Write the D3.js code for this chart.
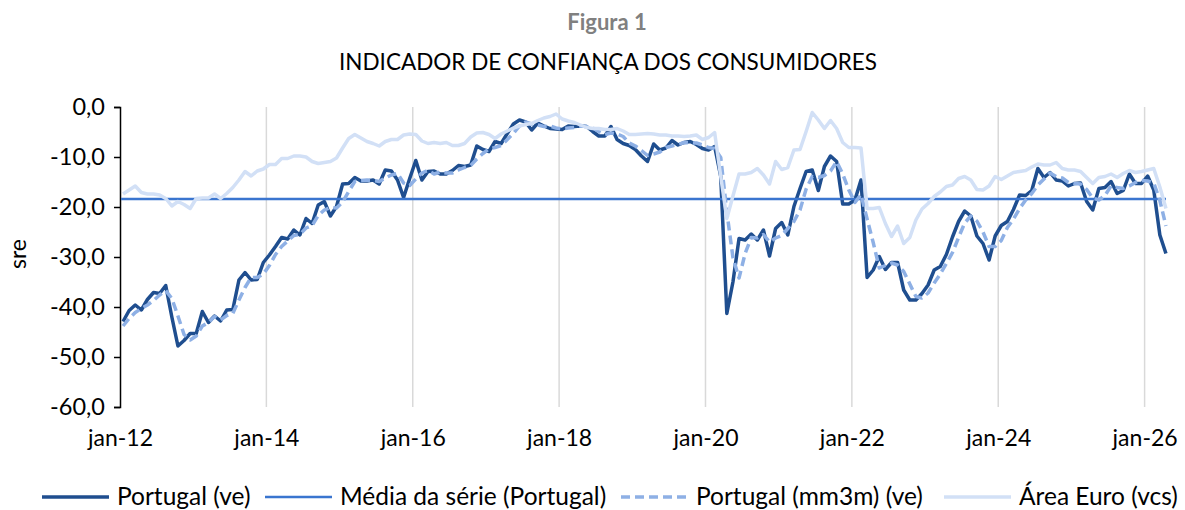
<!DOCTYPE html>
<html>
<head>
<meta charset="utf-8">
<script src="https://cdn.jsdelivr.net/npm/d3@7"></script>
<style>
  body { margin: 0; background: #fff; }
  svg { display: block; font-family: Lato, 'Open Sans', sans-serif; }
</style>
</head>
<body>
<svg id="chart" width="1185" height="510"></svg>
<script>
// Indicador de confiança dos consumidores, mensal jan-12 .. abr-26 (sre)
const firstMonth = new Date(2012, 0, 1);

const portugal = [
  -42.9, -40.7, -39.6, -40.6, -38.5, -37.1, -37.3, -35.7, -42.0, -47.8, -46.7, -45.3,
  -45.3, -40.9, -43.1, -41.8, -42.8, -40.6, -40.5, -34.6, -33.1, -34.6, -34.5, -31.1,
  -29.6, -27.9, -26.1, -26.4, -24.6, -25.6, -22.3, -23.3, -19.6, -18.9, -21.8, -19.9,
  -15.4, -15.3, -14.1, -14.8, -14.8, -14.6, -15.4, -12.6, -12.8, -14.6, -18.1, -14.3,
  -10.7, -14.6, -12.9, -12.8, -13.4, -13.4, -12.7, -11.7, -11.9, -11.6, -7.8, -8.5,
  -8.9, -6.9, -7.3, -5.3, -3.4, -2.6, -3.0, -4.6, -3.2, -3.8, -4.3, -4.4,
  -4.5, -3.8, -3.9, -3.8, -3.9, -4.9, -5.8, -5.8, -3.9, -6.5, -7.3, -7.7,
  -8.5, -9.8, -10.9, -7.4, -8.6, -8.2, -6.7, -7.6, -7.1, -6.9, -7.5, -8.3,
  -8.6, -7.9, -13.9, -41.3, -35.0, -26.3, -26.6, -25.4, -26.6, -24.6, -29.8, -24.3,
  -23.1, -25.6, -19.9, -16.3, -12.9, -12.6, -16.7, -11.9, -9.8, -10.9, -19.4, -19.4,
  -18.6, -14.6, -34.1, -32.6, -29.9, -32.5, -31.1, -31.1, -36.6, -38.6, -38.6, -37.3,
  -35.6, -32.6, -31.9, -29.5, -26.0, -22.9, -20.8, -21.8, -25.8, -27.3, -30.6, -25.8,
  -23.7, -22.9, -20.5, -17.6, -17.7, -16.7, -12.3, -14.1, -13.1, -14.6, -14.8, -15.8,
  -15.3, -15.2, -18.9, -20.6, -16.3, -16.1, -14.9, -17.3, -16.7, -13.4, -15.3, -15.3,
  -13.8, -16.6, -25.6, -29.3
];

const portugalMm3m = [
  -43.8, -42.3, -41.1, -40.3, -39.6, -38.7, -37.6, -36.7, -38.3, -41.8, -45.5, -46.6,
  -45.8, -43.8, -43.1, -41.9, -42.6, -41.7, -41.3, -38.6, -36.1, -34.1, -34.1, -33.4,
  -31.7, -29.5, -27.9, -26.8, -25.7, -25.5, -24.2, -23.7, -21.7, -20.6, -20.1, -20.2,
  -19.0, -16.9, -14.9, -14.7, -14.6, -14.7, -14.9, -14.2, -13.6, -13.3, -15.2, -15.7,
  -14.4, -13.2, -12.7, -13.4, -13.0, -13.2, -13.2, -12.6, -12.1, -11.7, -10.4, -9.3,
  -8.4, -8.1, -7.7, -6.5, -5.3, -3.8, -3.0, -3.4, -3.6, -3.9, -3.8, -4.2,
  -4.4, -4.2, -4.1, -3.8, -3.9, -4.2, -4.9, -5.5, -5.2, -5.4, -5.9, -7.2,
  -7.8, -8.7, -9.7, -9.4, -9.0, -8.1, -7.8, -7.5, -7.1, -7.2, -7.2, -7.6,
  -8.1, -8.3, -10.1, -21.0, -30.1, -34.2, -29.3, -26.1, -26.2, -25.5, -27.0, -26.2,
  -25.7, -24.3, -22.9, -20.6, -16.4, -13.9, -14.1, -13.7, -12.8, -10.9, -13.4, -16.6,
  -19.1, -17.5, -22.4, -27.1, -32.2, -31.7, -31.2, -31.6, -32.9, -35.4, -37.9, -38.2,
  -37.2, -35.2, -33.4, -31.3, -29.1, -26.1, -23.2, -21.8, -22.8, -25.0, -27.9, -27.9,
  -26.7, -24.1, -22.4, -20.3, -18.6, -17.3, -15.6, -14.4, -13.2, -13.9, -14.2, -15.1,
  -15.3, -15.4, -16.5, -18.2, -18.6, -17.7, -15.8, -16.1, -16.3, -15.8, -15.1, -14.7,
  -14.8, -15.2, -18.7, -23.8
];

const euroArea = [
  -17.4, -16.6, -15.8, -17.1, -17.4, -17.4, -17.6, -18.3, -19.8, -18.9, -19.5, -20.3,
  -18.3, -18.2, -18.2, -17.4, -18.3, -17.3, -16.1, -14.6, -12.9, -13.8, -12.8, -12.4,
  -11.5, -11.5, -10.3, -10.3, -9.8, -9.8, -10.0, -10.9, -11.3, -11.1, -10.9, -10.2,
  -8.2, -6.3, -5.5, -6.2, -6.9, -7.3, -7.8, -6.9, -6.5, -6.5, -5.6, -5.4,
  -5.5, -6.8, -7.3, -7.1, -7.3, -7.1, -7.7, -7.7, -7.3, -6.0, -5.2, -5.1,
  -5.5, -6.3, -5.4, -4.8, -4.2, -3.8, -3.5, -3.3, -2.7, -2.2, -1.9, -1.4,
  -2.4, -2.8, -3.1, -3.6, -4.1, -4.3, -4.3, -4.5, -4.5, -4.3, -4.8, -5.5,
  -5.5, -5.4, -5.3, -5.4, -5.6, -5.6, -5.8, -5.8, -5.9, -5.8, -5.6, -6.5,
  -6.1, -5.1, -13.9, -22.3, -17.8, -13.4, -13.4, -13.1, -12.3, -13.6, -15.4, -10.9,
  -12.5, -12.1, -8.6, -8.5, -4.9, -1.1, -2.6, -4.3, -2.7, -4.3, -7.1, -8.1,
  -8.1, -8.2, -20.3, -20.3, -20.1, -23.3, -25.9, -23.8, -27.3, -26.1, -22.6, -20.4,
  -19.3, -17.9, -17.0, -15.9, -15.6, -14.3, -13.9, -14.6, -16.5, -16.6, -15.8, -13.9,
  -14.5, -13.8, -13.1, -12.9, -12.7, -12.0, -11.4, -11.6, -11.6, -11.1, -12.3, -12.6,
  -12.6, -12.9, -14.1, -15.3, -14.1, -13.9, -13.4, -14.1, -13.3, -12.7, -13.1, -12.9,
  -12.6, -12.3, -16.0, -20.3
];

const serieMean = -18.4;   // média da série (Portugal)

const yTicks = [0, -10, -20, -30, -40, -50, -60];
const xTickLabels = ['jan-12', 'jan-14', 'jan-16', 'jan-18', 'jan-20', 'jan-22', 'jan-24', 'jan-26'];
const legendLabels = ['Portugal (ve)', 'Média da série (Portugal)', 'Portugal (mm3m) (ve)', 'Área Euro (vcs)'];

const colors = {
  portugal: '#1f4e8f',
  mean: '#3a75cf',
  mm3m: '#8eb0e5',
  euro: '#d2e0f6'
};

const svg = d3.select('#chart');
const margin = { top: 107, right: 16, bottom: 103, left: 120 };
const width = 1185, height = 510;

// category axis: each month is a slot, the point sits in the middle of its slot
const x = d3.scaleLinear()
  .domain([-0.5, portugal.length - 0.5])
  .range([margin.left, width - margin.right]);
const y = d3.scaleLinear()
  .domain([-60, 0])
  .range([height - margin.bottom, margin.top]);

const pt = d3.formatLocale({ decimal: ',', thousands: '.', grouping: [3], currency: ['', ' €'], minus: '-' });
const fmt = pt.format('.1f');

// month index of each labelled january
const labelIndex = xTickLabels.map(l => {
  const yr = 2000 + Number(l.slice(4));
  return d3.timeMonth.count(firstMonth, new Date(yr, 0, 1));
});

// vertical gridlines at the slot boundary of each labelled january
svg.append('g')
  .selectAll('line')
  .data(labelIndex.filter(i => i > 0))
  .join('line')
  .attr('x1', i => x(i - 0.5))
  .attr('x2', i => x(i - 0.5))
  .attr('y1', y(0))
  .attr('y2', y(-60))
  .attr('stroke', '#d9d9d9')
  .attr('stroke-width', 1.5);

// y axis
const yAxis = svg.append('g')
  .attr('transform', `translate(${margin.left},0)`)
  .call(d3.axisLeft(y).tickValues(yTicks).tickFormat(fmt).tickSize(6).tickPadding(9));
yAxis.select('.domain').attr('stroke', '#000').attr('stroke-width', 1.5);
yAxis.selectAll('.tick line').attr('stroke', '#000').attr('stroke-width', 1.5);
yAxis.selectAll('text').attr('font-size', 23.5).attr('fill', '#000')
  .attr('font-family', 'Lato, sans-serif');

// x axis labels (no line)
const xAxis = svg.append('g')
  .attr('transform', `translate(0,${y(-60)})`)
  .call(d3.axisBottom(x)
    .tickValues(labelIndex.map(i => i - 0.5))
    .tickFormat((d, k) => xTickLabels[k])
    .tickSize(0).tickPadding(23));
xAxis.select('.domain').remove();
xAxis.selectAll('text').attr('font-size', 23).attr('fill', '#000')
  .attr('font-family', 'Lato, sans-serif');

// y axis title
svg.append('text')
  .attr('transform', `translate(26,${(y(0) + y(-60)) / 2 - 3}) rotate(-90)`)
  .attr('text-anchor', 'middle')
  .attr('font-size', 23)
  .text('sre');

// series
const line = d3.line().x((d, i) => x(i)).y(d => y(d));

svg.append('path')
  .datum(portugal)
  .attr('d', line)
  .attr('fill', 'none')
  .attr('stroke', colors.portugal)
  .attr('stroke-width', 3.5)
  .attr('stroke-linejoin', 'round');

svg.append('line')
  .attr('x1', x(-0.5) + 1)
  .attr('x2', x(portugal.length - 1))
  .attr('y1', y(serieMean))
  .attr('y2', y(serieMean))
  .attr('stroke', colors.mean)
  .attr('stroke-width', 2.5);

svg.append('path')
  .datum(portugalMm3m)
  .attr('d', line)
  .attr('fill', 'none')
  .attr('stroke', colors.mm3m)
  .attr('stroke-width', 3.5)
  .attr('stroke-dasharray', '9,5')
  .attr('stroke-linejoin', 'round');

svg.append('path')
  .datum(euroArea)
  .attr('d', line)
  .attr('fill', 'none')
  .attr('stroke', colors.euro)
  .attr('stroke-width', 3.5)
  .attr('stroke-linejoin', 'round');

// titles
svg.append('text')
  .attr('x', 607).attr('y', 30)
  .attr('text-anchor', 'middle')
  .attr('font-size', 22).attr('font-weight', 'bold')
  .attr('fill', '#808080')
  .text('Figura 1');
svg.append('text')
  .attr('x', 608).attr('y', 70)
  .attr('text-anchor', 'middle')
  .attr('font-size', 22.5)
  .attr('fill', '#000')
  .text('INDICADOR DE CONFIANÇA DOS CONSUMIDORES');

// legend
const legendItems = [
  { label: legendLabels[0], color: colors.portugal, dash: null, w: 3.5, x0: 42 },
  { label: legendLabels[1], color: colors.mean, dash: null, w: 2.5, x0: 265 },
  { label: legendLabels[2], color: colors.mm3m, dash: '9,5', w: 3.5, x0: 621 },
  { label: legendLabels[3], color: colors.euro, dash: null, w: 3.5, x0: 944 }
];
const lg = svg.append('g').selectAll('g').data(legendItems).join('g')
  .attr('transform', d => `translate(${d.x0},497)`);
lg.append('line')
  .attr('x1', 0).attr('x2', 67)
  .attr('stroke', d => d.color)
  .attr('stroke-width', d => d.w)
  .attr('stroke-dasharray', d => d.dash);
lg.append('text')
  .attr('x', 75).attr('y', 8)
  .attr('font-size', 24.5)
  .text(d => d.label);
</script>
</body>
</html>
